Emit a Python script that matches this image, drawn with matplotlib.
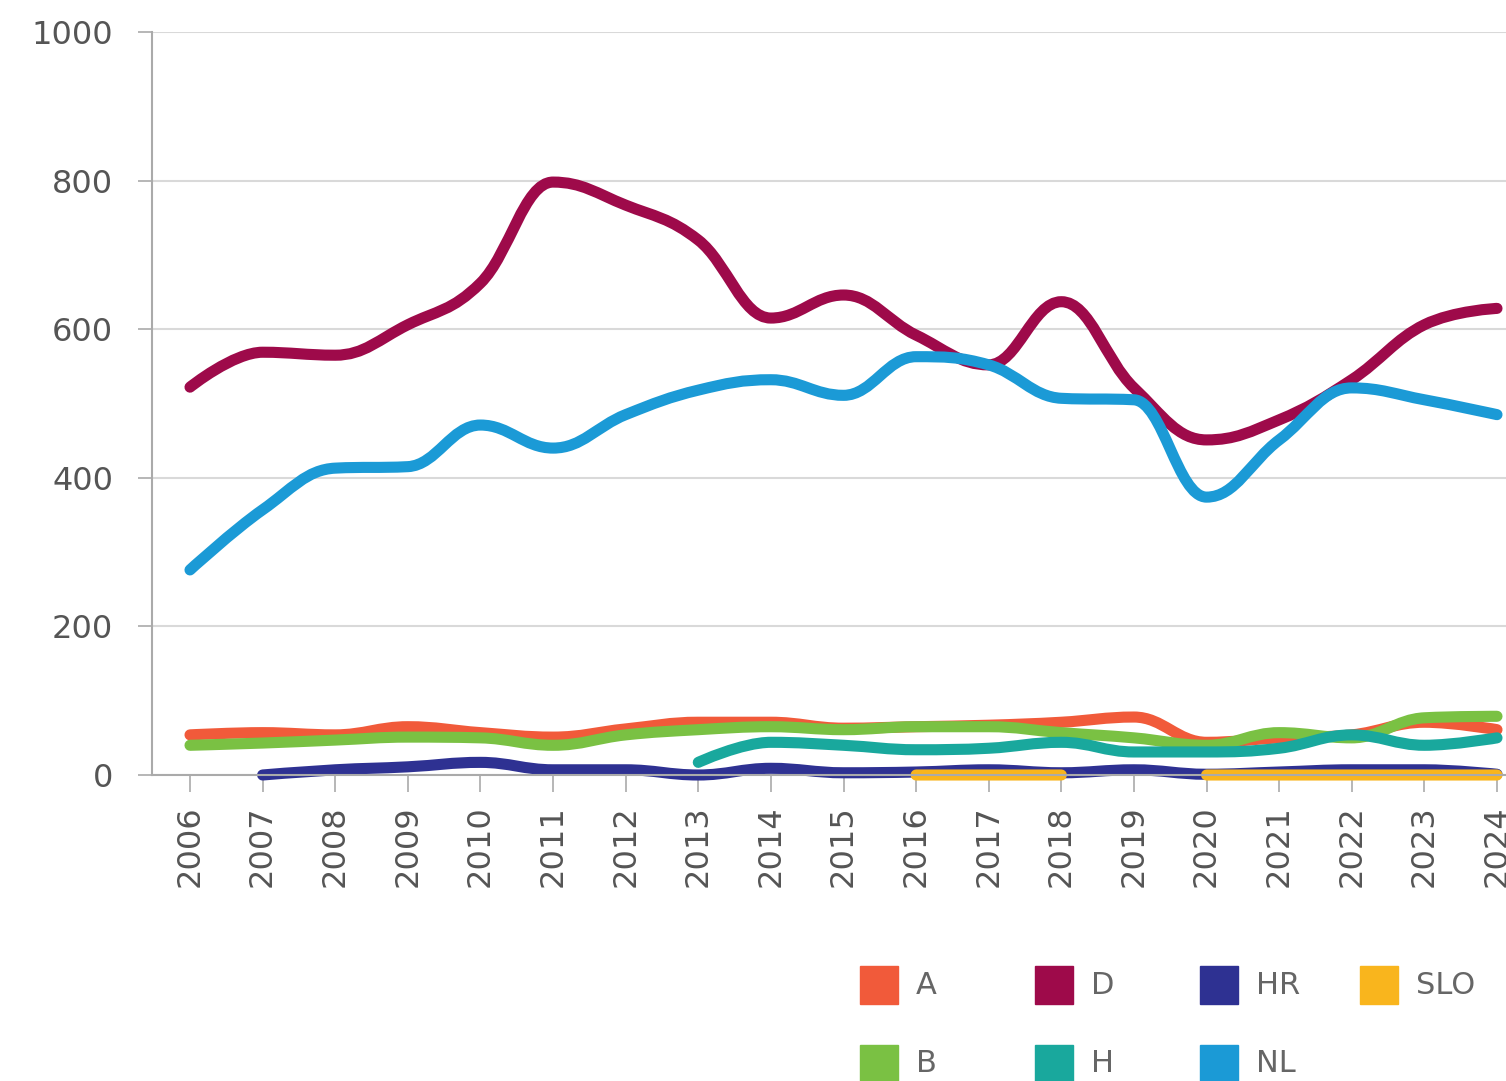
import numpy as np
import matplotlib
matplotlib.use("Agg")
import matplotlib.pyplot as plt
from matplotlib.path import Path
from matplotlib.patches import PathPatch, Rectangle

nan = np.nan
years = list(range(2006, 2025))

# values
series_a = [54, 57, 54, 65, 57, 51, 62, 71, 71, 63, 65, 67, 71, 78, 44, 50, 54, 71, 61]
series_b = [40, 43, 47, 51, 50, 40, 54, 61, 65, 61, 65, 65, 57, 50, 40, 57, 50, 77, 79]
series_d = [522, 569, 565, 606, 662, 798, 767, 720, 615, 646, 592, 552, 637, 521, 451, 478, 532, 606, 628]
series_h = [nan, nan, nan, nan, nan, nan, nan, 17, 44, 40, 34, 36, 44, 31, 31, 36, 54, 40, 50]
series_hr = [nan, 0, 7, 11, 17, 7, 7, 0, 9, 3, 4, 7, 3, 7, 1, 4, 7, 7, 1]
series_nl = [276, 357, 413, 415, 471, 440, 485, 518, 532, 511, 563, 552, 507, 505, 374, 451, 521, 505, 485]
series_slo = [nan, nan, nan, nan, nan, nan, nan, nan, nan, nan, 0, 0, 0, nan, 0, 0, 0, 0, 0]

names = ["A", "B", "D", "H", "HR", "NL", "SLO"]
colors = ["#f15a3a", "#7ac143", "#9e0a4a", "#19a89d", "#2e3192", "#1b9ad6", "#f9b51d"]
all_series = [series_a, series_b, series_d, series_h, series_hr, series_nl, series_slo]


def spline_path(xs, ys):
    # highcharts-like spline control points
    n = len(xs)
    left = [(xs[i], ys[i]) for i in range(n)]
    right = [(xs[i], ys[i]) for i in range(n)]
    for i in range(1, n - 1):
        x, y = xs[i], ys[i]
        lx, ly, nx, ny = xs[i - 1], ys[i - 1], xs[i + 1], ys[i + 1]
        lcx, lcy = (1.5 * x + lx) / 2.5, (1.5 * y + ly) / 2.5
        rcx, rcy = (1.5 * x + nx) / 2.5, (1.5 * y + ny) / 2.5
        corr = ((rcy - lcy) * (rcx - x)) / (rcx - lcx) + y - rcy
        lcy += corr
        rcy += corr
        if lcy > max(ly, y):
            lcy = max(ly, y); rcy = 2 * y - lcy
        elif lcy < min(ly, y):
            lcy = min(ly, y); rcy = 2 * y - lcy
        if rcy > max(ny, y):
            rcy = max(ny, y); lcy = 2 * y - rcy
        elif rcy < min(ny, y):
            rcy = min(ny, y); lcy = 2 * y - rcy
        left[i] = (lcx, lcy)
        right[i] = (rcx, rcy)
    verts = [(xs[0], ys[0])]
    codes = [Path.MOVETO]
    for i in range(1, n):
        verts += [right[i - 1], left[i], (xs[i], ys[i])]
        codes += [Path.CURVE4] * 3
    return Path(verts, codes)


fig = plt.figure(figsize=(15.06, 10.81), dpi=100)
ax = fig.add_axes([152 / 1506, 306 / 1081, 1 - 152 / 1506, 743 / 1081])

for vals, col in zip(all_series, colors):
    # split into runs without gaps
    run_x, run_y = [], []
    for yr, v in list(zip(years, vals)) + [(None, nan)]:
        if np.isnan(v):
            if len(run_x) > 1:
                ax.add_patch(PathPatch(spline_path(run_x, run_y), facecolor="none",
                                       edgecolor=col, lw=8, capstyle="round",
                                       joinstyle="round", clip_on=False))
            run_x, run_y = [], []
        else:
            run_x.append(yr)
            run_y.append(v)

ax.set_xlim(2006 - 38 / 72.6, 2024 + 9 / 72.6)
ax.set_ylim(0, 1000)
ax.set_yticks([0, 200, 400, 600, 800, 1000])
ax.set_xticks(years)
ax.set_xticklabels([str(y) for y in years], rotation=90)
ax.grid(axis="y", color="#d9d9d9", lw=1.5)
ax.set_axisbelow(True)
for s in ["top", "right"]:
    ax.spines[s].set_visible(False)
ax.spines["left"].set_color("#aaaaaa")
ax.spines["bottom"].set_color("#aaaaaa")
ax.spines["left"].set_linewidth(1.5)
ax.spines["bottom"].set_linewidth(1.5)
ax.tick_params(axis="y", length=10, width=1.2, color="#aaaaaa", pad=18,
               labelsize=23, labelcolor="#555555")
ax.tick_params(axis="x", length=12, width=1.2, color="#aaaaaa", pad=10,
               labelsize=23, labelcolor="#555555")

# legend drawn by hand
leg_cols = [860, 1035, 1200, 1360]
leg_rows = [985, 1064]
for i, (nm, col) in enumerate(zip(names, colors)):
    c, r = i // 2, i % 2
    x0 = leg_cols[c] / 1506
    yc = 1 - leg_rows[r] / 1081
    fig.add_artist(Rectangle((x0, yc - 19 / 1081), 38 / 1506, 38 / 1081,
                             transform=fig.transFigure, color=col))
    fig.text(x0 + 56 / 1506, yc, nm, fontsize=22, color="#666666",
             ha="left", va="center")

fig.savefig("out.png", dpi=100)
